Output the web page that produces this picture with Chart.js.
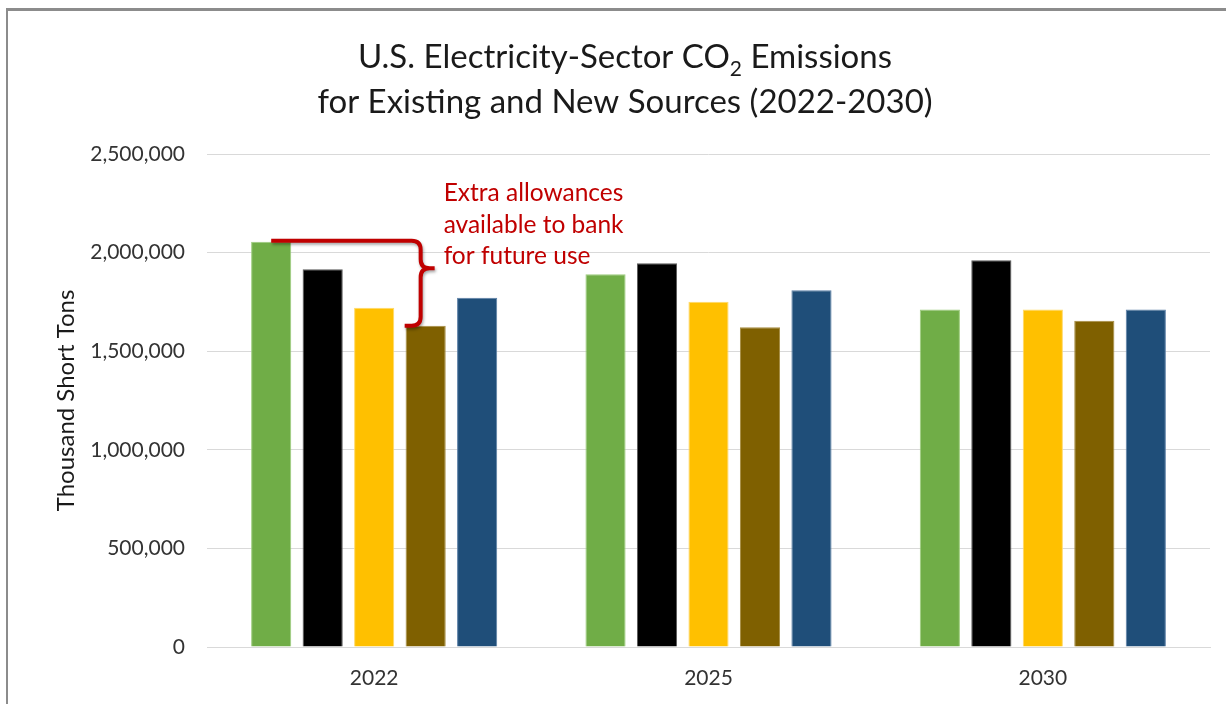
<!DOCTYPE html>
<html>
<head>
<meta charset="utf-8">
<script src="https://cdn.jsdelivr.net/npm/chart.js@4/dist/chart.umd.min.js"></script>
<style>
  html, body { margin: 0; padding: 0; background: #fff; overflow: hidden; }
  #frame { position: absolute; left: 6px; top: 8px; width: 1240px; height: 720px;
           border-left: 2px solid #8c8c8c; border-top: 3px solid #8c8c8c; box-sizing: border-box; }
  #wrap { position: absolute; left: 0; top: 0; width: 1226px; height: 704px; }
</style>
</head>
<body>
<div id="frame"></div>
<div id="wrap"><canvas id="canvas" width="1226" height="704"></canvas></div>
<script>
// データ
var years = ['2022', '2025', '2030'];
var seriesNames = ['Series 1', 'Series 2', 'Series 3', 'Series 4', 'Series 5'];
var series1 = [2055000, 1890000, 1712000];
var series2 = [1915000, 1946000, 1961000];
var series3 = [1720000, 1751000, 1712000];
var series4 = [1629000, 1621000, 1655000];
var series5 = [1771000, 1809000, 1712000];
var yTicks = [0, 500000, 1000000, 1500000, 2000000, 2500000];
var titleLine1 = ['U.S. Electricity-Sector CO', '2', ' Emissions'];
var titleLine2 = 'for Existing and New Sources (2022-2030)';
var noteLines = ['Extra allowances', 'available to bank', 'for future use'];

var fills   = ['#70AD47', '#000000', '#FFC000', '#7F6000', '#1F4E79'];
var borders = ['#9ccc7c', '#5a5a5a', '#ffd966', '#a68c40', '#5b7fa6'];
var values  = [series1, series2, series3, series4, series5];

var FONT = 'Lato, "Open Sans", sans-serif';

// タイトル（CO2 の下付き文字）と注釈の括弧
var drawExtras = {
  id: 'drawExtras',
  afterDraw: function(chart) {
    var ctx = chart.ctx;
    ctx.save();
    ctx.fillStyle = '#1a1a1a';
    ctx.textBaseline = 'alphabetic';

    // 1行目
    var big = '33px ' + FONT, small = '21px ' + FONT;
    ctx.font = big;
    var w0 = ctx.measureText(titleLine1[0]).width;
    var w2 = ctx.measureText(titleLine1[2]).width;
    ctx.font = small;
    var w1 = ctx.measureText(titleLine1[1]).width;
    var x = 625 - (w0 + w1 + w2) / 2;
    ctx.font = big;
    ctx.textAlign = 'left';
    ctx.fillText(titleLine1[0], x, 68);
    ctx.font = small;
    ctx.fillText(titleLine1[1], x + w0, 76);
    ctx.font = big;
    ctx.fillText(titleLine1[2], x + w0 + w1, 68);
    // 2行目
    ctx.textAlign = 'center';
    ctx.fillText(titleLine2, 625, 113);

    // 括弧（1本目と4本目の棒の高さから）
    var green = chart.getDatasetMeta(0).data[0];
    var brown = chart.getDatasetMeta(3).data[0];
    var top = green.y - 1, bot = brown.y;
    var vx = brown.x - 5, r = 9;
    var mid = (top + bot) / 2 - 15;
    ctx.strokeStyle = '#C00000';
    ctx.lineWidth = 4;
    ctx.lineJoin = 'round';
    ctx.shadowColor = 'rgba(0,0,0,0.35)';
    ctx.shadowBlur = 3;
    ctx.shadowOffsetX = 1;
    ctx.shadowOffsetY = 2;
    ctx.beginPath();
    ctx.moveTo(green.x, top);
    ctx.lineTo(vx - r, top);
    ctx.quadraticCurveTo(vx, top, vx, top + r);
    ctx.lineTo(vx, mid - r);
    ctx.quadraticCurveTo(vx, mid, vx + r, mid);
    ctx.lineTo(vx + 14, mid);
    ctx.moveTo(vx + r, mid);
    ctx.quadraticCurveTo(vx, mid, vx, mid + r);
    ctx.lineTo(vx, bot - r);
    ctx.quadraticCurveTo(vx, bot, vx - r, bot);
    ctx.lineTo(vx - 16, bot);
    ctx.stroke();
    ctx.shadowColor = 'transparent';

    // 注釈テキスト
    ctx.fillStyle = '#C00000';
    ctx.font = '24.5px ' + FONT;
    ctx.textAlign = 'left';
    for (var i = 0; i < noteLines.length; i++) {
      ctx.fillText(noteLines[i], brown.x + 18, 201 + i * 31.5);
    }
    ctx.restore();
  }
};

var datasets = [];
for (var i = 0; i < values.length; i++) {
  datasets.push({
    label: seriesNames[i],
    data: values[i],
    backgroundColor: fills[i],
    borderColor: borders[i],
    borderWidth: 1,
    categoryPercentage: 0.77,
    barPercentage: 0.78
  });
}

window.onload = function() {
  var ctx = document.getElementById('canvas').getContext('2d');
  window.myChart = new Chart(ctx, {
    type: 'bar',
    data: { labels: years, datasets: datasets },
    options: {
      responsive: false,
      animation: false,
      layout: { padding: { top: 154, right: 16, left: 0, bottom: 0 } },
      plugins: {
        legend: { display: false },
        title: { display: false },
        tooltip: { enabled: false }
      },
      scales: {
        x: {
          grid: { display: false, drawTicks: false },
          border: { color: '#d9d9d9', width: 1 },
          ticks: { color: '#333', font: { family: FONT, size: 21 }, padding: 19 },
          afterFit: function(scale) { scale.height = 57; }
        },
        y: {
          min: 0,
          max: 2500000,
          afterBuildTicks: function(scale) {
            scale.ticks = yTicks.map(function(v) { return { value: v }; });
          },
          grid: { color: '#d9d9d9', drawTicks: false },
          border: { display: false },
          ticks: {
            color: '#333',
            font: { family: FONT, size: 21 },
            padding: 22,
            callback: function(v) { return v.toLocaleString('en-US'); }
          },
          title: {
            display: true,
            text: 'Thousand Short Tons',
            color: '#1a1a1a',
            font: { family: FONT, size: 24 },
            padding: { top: 52, bottom: 0 }
          },
          afterFit: function(scale) { scale.width = 207; }
        }
      }
    },
    plugins: [drawExtras]
  });
};
</script>
</body>
</html>
